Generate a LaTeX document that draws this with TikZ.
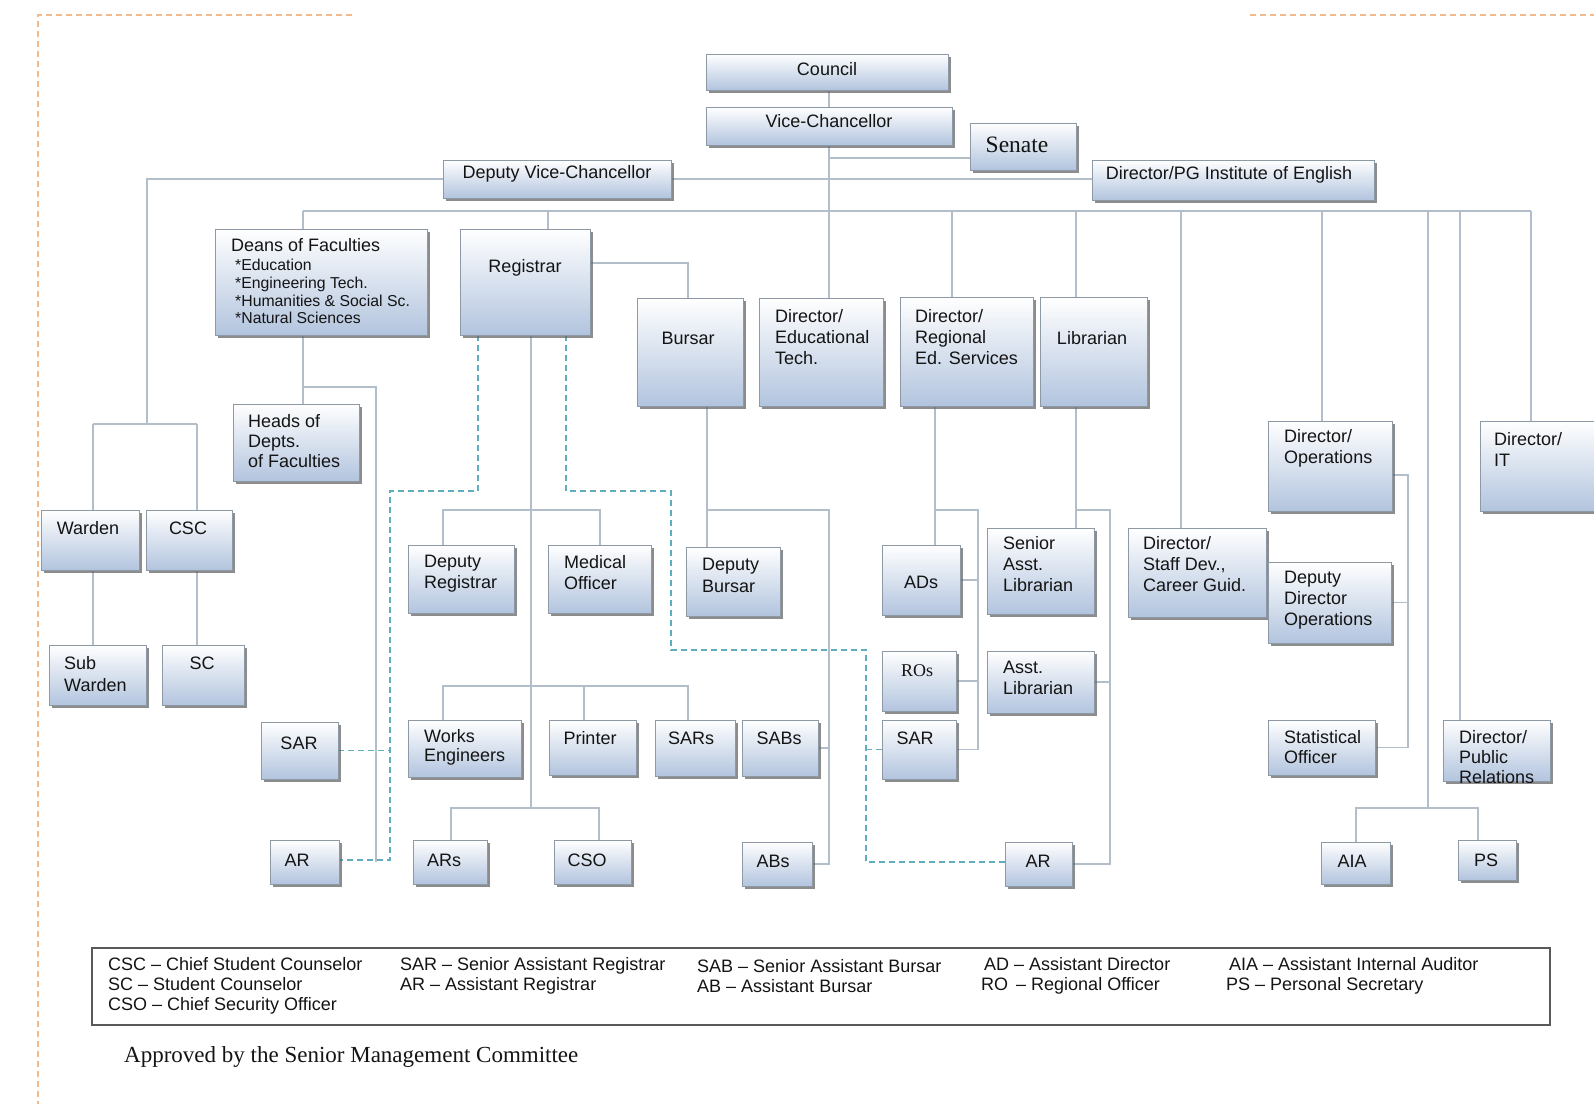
\documentclass[tikz,border=0pt]{standalone}
\usepackage{fontspec}
\setmainfont{Liberation Sans}
\newfontfamily\seriff{Liberation Serif}
\usetikzlibrary{shadows}
\pgfdeclarelayer{bg}
\pgfsetlayers{bg,main}
\definecolor{lnc}{HTML}{B3BECB}
\definecolor{dsh}{HTML}{5FAEC0}
\definecolor{bxb}{HTML}{8E99A6}
\definecolor{bxbot}{HTML}{B2C4DE}
\definecolor{brd}{HTML}{F2B98A}
\tikzset{
 obx/.style={draw=bxb, line width=0.8pt, top color=white, bottom color=bxbot,
   drop shadow={shadow xshift=2.5pt, shadow yshift=-3pt, fill=black!60, opacity=0.75},
   inner sep=0pt, outer sep=0pt},
 lbl/.style={font=\fontsize{18}{21}\selectfont, inner sep=0pt, text=black!92},
 lbll/.style={lbl, anchor=west, align=left},
 smalll/.style={font=\fontsize{15.8}{17.7}\selectfont, inner sep=0pt, text=black!92, anchor=west, align=left},
 leg/.style={font=\fontsize{18}{20}\selectfont, inner sep=0pt, text=black!92, anchor=west, align=left},
 conn/.style={draw=lnc, line width=1.3pt},
 dconn/.style={draw=dsh, line width=1.8pt, dash pattern=on 6pt off 4pt},
 pageb/.style={draw=brd, line width=1.3pt, dash pattern=on 6pt off 4pt},
}
\newcommand\obox[5]{\node[obx, minimum width=#4pt-#2pt, minimum height=#5pt-#3pt] (#1) at ({(#2+#4)/2},{(#3+#5)/2}) {};}
\begin{document}
\begin{tikzpicture}[x=1pt,y=-1pt]
\begin{pgfonlayer}{bg}
\fill[white] (0,0) rectangle (1594,1104);
\end{pgfonlayer}
% page border
\coordinate (pb1) at (352,15); \coordinate (pb2) at (38,15); \coordinate (pb3) at (38,1104);
\coordinate (pb4) at (1250,15); \coordinate (pb5) at (1594,15);
\draw[pageb] (pb1) -- (pb2) -- (pb3);
\draw[pageb] (pb4) -- (pb5);
% boxes
\obox{council}{706}{54}{948}{90}
\obox{vc}{706}{107}{952}{145}
\obox{senate}{970}{123}{1076}{170}
\obox{dvc}{443}{160}{671}{198}
\obox{dirpg}{1092}{160}{1374}{200}
\obox{deans}{215}{229}{427}{335}
\obox{reg}{460}{229}{590}{335}
\obox{bursar}{637}{298}{743}{406}
\obox{dired}{759}{298}{883}{406}
\obox{dirreg}{900}{297}{1033}{406}
\obox{librarian}{1040}{297}{1147}{406}
\obox{heads}{233}{404}{359}{481}
\obox{warden}{41}{510}{139}{570}
\obox{csc}{146}{510}{232}{570}
\obox{subw}{49}{645}{146}{705}
\obox{sc}{162}{645}{244}{705}
\obox{sar1}{261}{722}{338}{779}
\obox{ar1}{270}{840}{339}{884}
\obox{deputyreg}{408}{545}{514}{613}
\obox{medoff}{548}{545}{651}{613}
\obox{depbursar}{686}{547}{780}{616}
\obox{ads}{882}{545}{960}{615}
\obox{senlib}{987}{528}{1094}{614}
\obox{staffdev}{1128}{528}{1266}{617}
\obox{dirops}{1268}{421}{1392}{511}
\obox{dirit}{1480}{421}{1604}{511}
\obox{depops}{1268}{562}{1391}{643}
\obox{ros}{882}{651}{956}{711}
\obox{asstlib}{987}{651}{1094}{713}
\obox{works}{408}{720}{521}{777}
\obox{printer}{549}{720}{636}{775}
\obox{sars}{655}{720}{735}{776}
\obox{sabs}{742}{720}{818}{776}
\obox{sar2}{882}{720}{956}{779}
\obox{statoff}{1268}{720}{1375}{775}
\obox{dirpr}{1443}{720}{1550}{781}
\obox{ars}{413}{840}{487}{884}
\obox{cso}{554}{840}{631}{884}
\obox{abs}{742}{842}{812}{886}
\obox{ar2}{1005}{842}{1072}{886}
\obox{aia}{1321}{842}{1390}{884}
\obox{ps}{1458}{840}{1516}{880}
% texts
\node[lbl] (council-t) at (827,69) {Council};
\node[lbl] (vc-t) at (829,121) {Vice-Chancellor};
\node[inner sep=0pt, font=\seriff\fontsize{23.5}{25}\selectfont, text=black!92] (senate-t) at (1017,145) {Senate};
\node[lbl] (dvc-t) at (557,174) {Deputy Vice-Chancellor};
\node[lbl] (dirpg-t) at (1229,175) {Director/PG Institute of English};
\node[lbll] (deans-t) at (231,245) {Deans of Faculties};
\node[smalll] (deans-l) at (235,291.5) {*Education\\*Engineering Tech.\\*Humanities \& Social Sc.\\*Natural Sciences};
\node[lbl] (reg-t) at (525,268) {Registrar};
\node[lbl] (bursar-t) at (688,338) {Bursar};
\node[lbll] (dired-t) at (775,337) {Director/\\Educational\\Tech.};
\node[lbll] (dirreg-t) at (915,337) {Director/\\Regional\\Ed. Services};
\node[lbl] (librarian-t) at (1092,338) {Librarian};
\node[lbll, font=\fontsize{18}{20}\selectfont] (heads-t) at (248,441) {Heads of\\Depts.\\of Faculties};
\node[lbl] (warden-t) at (88,528) {Warden};
\node[lbl] (csc-t) at (188,528) {CSC};
\node[lbll, font=\fontsize{18}{22}\selectfont] (subw-t) at (64,674) {Sub\\Warden};
\node[lbl] (sc-t) at (202,663) {SC};
\node[lbl] (sar1-t) at (299,743) {SAR};
\node[lbl] (ar1-t) at (297,860) {AR};
\node[lbll] (deputyreg-t) at (424,573.5) {Deputy\\Registrar};
\node[lbll] (medoff-t) at (564,572.5) {Medical\\Officer};
\node[lbll, font=\fontsize{18}{22}\selectfont] (depbursar-t) at (702,575) {Deputy\\Bursar};
\node[lbl] (ads-t) at (921,582) {ADs};
\node[lbll] (senlib-t) at (1003,564) {Senior\\Asst.\\Librarian};
\node[lbll] (staffdev-t) at (1143,564) {Director/\\Staff Dev.,\\Career Guid.};
\node[lbll] (dirops-t) at (1284,448.5) {Director/\\Operations};
\node[lbll] (dirit-t) at (1494,449) {Director/\\IT};
\node[lbll] (depops-t) at (1284,600) {Deputy\\Director\\Operations};
\node[inner sep=0pt, font=\seriff\fontsize{18}{20}\selectfont, text=black!92] (ros-t) at (917,671) {ROs};
\node[lbll] (asstlib-t) at (1003,677.5) {Asst.\\Librarian};
\node[lbll, font=\fontsize{18}{19}\selectfont] (works-t) at (424,747.5) {Works\\Engineers};
\node[lbl] (printer-t) at (590,738) {Printer};
\node[lbl] (sars-t) at (691,738) {SARs};
\node[lbl] (sabs-t) at (779,738) {SABs};
\node[lbl] (sar2-t) at (915,738) {SAR};
\node[lbll, font=\fontsize{18}{20}\selectfont] (statoff-t) at (1284,747) {Statistical\\Officer};
\begin{scope}
\clip (1443,720) rectangle (1551,782);
\node[lbll, font=\fontsize{18}{20}\selectfont] (dirpr-t) at (1459,757) {Director/\\Public\\Relations};
\end{scope}
\node[lbl] (ars-t) at (444,860) {ARs};
\node[lbl] (cso-t) at (587,860) {CSO};
\node[lbl] (abs-t) at (773,861) {ABs};
\node[lbl] (ar2-t) at (1038,861) {AR};
\node[lbl] (aia-t) at (1352,861) {AIA};
\node[lbl] (ps-t) at (1486,860) {PS};
% legend
\node[draw=black!65, line width=1.6pt, minimum width=1458pt, minimum height=77pt, inner sep=0pt] (legend) at (821,986.5) {};
\node[leg] (lg1) at (108,986) {CSC -- Chief Student Counselor\\SC -- Student Counselor\\CSO -- Chief Security Officer};
\node[leg] (lg2) at (400,976) {SAR -- Senior Assistant Registrar\\AR -- Assistant Registrar};
\node[leg] (lg3) at (697,976) {SAB -- Senior Assistant Bursar\\AB -- Assistant Bursar};
\node[leg] (lg4) at (981,976) {\,AD -- Assistant Director\\RO \,-- Regional Officer};
\node[leg] (lg5) at (1226,976) {\,AIA -- Assistant Internal Auditor\\PS -- Personal Secretary};
\node[inner sep=0pt, anchor=west, font=\seriff\fontsize{23}{25}\selectfont, text=black!92] (approved) at (124,1057) {Approved by the Senior Management Committee};
% junction coordinates
\coordinate (sen) at (829,158);
\coordinate (b1) at (303,211); \coordinate (b2) at (548,211); \coordinate (b3) at (952,211);
\coordinate (b4) at (1076,211); \coordinate (b5) at (1181,211); \coordinate (b6) at (1322,211);
\coordinate (b7) at (1428,211); \coordinate (b8) at (1460,211); \coordinate (b9) at (1531,211);
\coordinate (wc) at (147,424); \coordinate (wj1) at (93,424); \coordinate (wj2) at (197,424);
\coordinate (dj) at (303,387); \coordinate (dk) at (376,387);
\coordinate (rb) at (688,263);
\coordinate (r1) at (531,510); \coordinate (r3) at (531,808);
\coordinate (dr) at (443,510); \coordinate (mo) at (600,510);
\coordinate (we) at (443,686); \coordinate (pr) at (584,686); \coordinate (sa) at (688,686);
\coordinate (arj) at (451,808); \coordinate (csj) at (599,808);
\coordinate (dl1) at (478,491); \coordinate (dl2) at (390,491); \coordinate (dl3) at (390,860);
\coordinate (dr1) at (566,491); \coordinate (dr2) at (671,491); \coordinate (dr3) at (671,650);
\coordinate (dr4) at (866,650); \coordinate (dr5) at (866,862);
\coordinate (bu1) at (707,510); \coordinate (bu2) at (829,510);
\coordinate (rg1) at (935,510); \coordinate (rg2) at (978,510);
\coordinate (lb1) at (1076,510); \coordinate (lb2) at (1110,510);
\coordinate (op1) at (1408,475);
\coordinate (ap) at (1428,808); \coordinate (ap1) at (1356,808); \coordinate (ap2) at (1478,808);
\begin{pgfonlayer}{bg}
\draw[conn] (council.south -| vc.south) -- (vc.north);
\draw[conn] (vc.south) -- (vc.south |- dired.north);
\draw[conn] (sen) -- (sen -| senate.west);
\draw[conn] (dvc.east) -- (dvc.east -| dirpg.west);
\draw[conn] (dvc.west) -| (wc);
\draw[conn] (wj1) -- (wj2);
\draw[conn] (wj1) -- (wj1 |- warden.north);
\draw[conn] (wj2) -- (wj2 |- csc.north);
\draw[conn] (wj1 |- warden.south) -- (wj1 |- subw.north);
\draw[conn] (wj2 |- csc.south) -- (wj2 |- sc.north);
% main bus
\draw[conn] (b1) -- (b9);
\draw[conn] (b1) -- (b1 |- deans.north);
\draw[conn] (b2) -- (b2 |- reg.north);
\draw[conn] (b3) -- (b3 |- dirreg.north);
\draw[conn] (b4) -- (b4 |- librarian.north);
\draw[conn] (b5) -- (b5 |- staffdev.north);
\draw[conn] (b6) -- (b6 |- dirops.north);
\draw[conn] (b7) -- (ap);
\draw[conn] (b8) -- (b8 |- dirpr.north);
\draw[conn] (b9) -- (b9 |- dirit.north);
% deans
\draw[conn] (b1 |- deans.south) -- (b1 |- heads.north);
\draw[conn] (dj) -- (dk) -- (dk |- ar1.east);
% registrar
\draw[conn] (rb -| reg.east) -- (rb) -- (rb |- bursar.north);
\draw[conn] (r1 |- reg.south) -- (r3);
\draw[conn] (dr |- deputyreg.north) -- (dr) -- (mo) -- (mo |- medoff.north);
\draw[conn] (we |- works.north) -- (we) -- (sa) -- (sa |- sars.north);
\draw[conn] (pr) -- (pr |- printer.north);
\draw[conn] (arj |- ars.north) -- (arj) -- (csj) -- (csj |- cso.north);
\draw[dconn] (dl1 |- reg.south) -- (dl1) -- (dl2) -- (dl3) -- (dl3 -| ar1.east);
\draw[dconn] (sar1.east) -- (sar1.east -| dl2);
\draw[dconn] (dr1 |- reg.south) -- (dr1) -- (dr2) -- (dr3) -- (dr4) -- (dr5) -- (dr5 -| ar2.west);
\draw[dconn] (sar2.west) -- (sar2.west -| dr4);
% bursar
\draw[conn] (bu1 |- bursar.south) -- (bu1 |- depbursar.north);
\draw[conn] (bu1) -- (bu2) -- (bu2 |- abs.east) -- (abs.east);
\draw[conn] (sabs.east) -- (sabs.east -| bu2);
% regional
\draw[conn] (rg1 |- dirreg.south) -- (rg1 |- ads.north);
\draw[conn] (rg1) -- (rg2) -- (rg2 |- sar2.east) -- (sar2.east);
\draw[conn] (ads.east) -- (ads.east -| rg2);
\draw[conn] (ros.east) -- (ros.east -| rg2);
% librarian
\draw[conn] (lb1 |- librarian.south) -- (lb1 |- senlib.north);
\draw[conn] (lb1) -- (lb2) -- (lb2 |- ar2.east) -- (ar2.east);
\draw[conn] (asstlib.east) -- (asstlib.east -| lb2);
% operations
\draw[conn] (dirops.east |- op1) -- (op1) -- (op1 |- statoff.east) -- (statoff.east);
\draw[conn] (depops.east) -- (depops.east -| op1);
% aia ps
\draw[conn] (ap1 |- aia.north) -- (ap1) -- (ap2) -- (ap2 |- ps.north);
\end{pgfonlayer}
\pgfresetboundingbox
\useasboundingbox (0,0) rectangle (1594,1104);
\end{tikzpicture}
\end{document}
